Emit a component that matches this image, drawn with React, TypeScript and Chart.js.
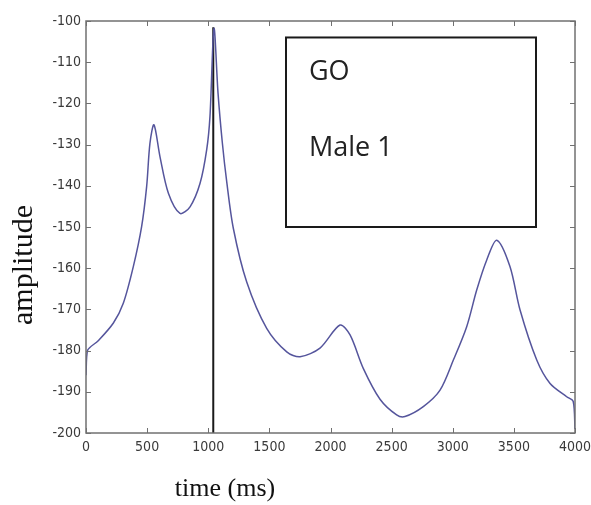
import React, { useEffect, useRef } from "react";
import { Chart, registerables } from "chart.js";

Chart.register(...registerables);

const timeMs = [0, 12, 100, 224, 305, 387, 455, 496, 523, 556, 605, 674, 769, 851, 933, 987, 1014, 1047, 1080, 1115, 1151, 1205, 1314, 1478, 1642, 1751, 1914, 2078, 2160, 2268, 2405, 2541, 2609, 2759, 2896, 3005, 3114, 3196, 3278, 3360, 3468, 3550, 3687, 3796, 3932, 3985, 4000];
const amplitude = [-186, -180, -177.6, -173.3, -168.5, -159.6, -149.9, -140.2, -129.7, -125.2, -132.9, -141.8, -146.7, -145.1, -139.4, -131.3, -123.2, -101.8, -117.5, -129.5, -139, -150.3, -163.3, -174.6, -180.3, -181.5, -179.4, -173.8, -176.2, -184.3, -191.8, -195.6, -196, -193.6, -189.6, -182.3, -174.2, -165.3, -158, -153.2, -159.6, -170.1, -182.3, -188, -191.2, -192.3, -199];

const markerTime = [1041, 1041];
const markerAmp = [-200, -101.5];

const xTicks = [0, 500, 1000, 1500, 2000, 2500, 3000, 3500, 4000];
const yTicks = [-100, -110, -120, -130, -140, -150, -160, -170, -180, -190, -200];

const boxTime = [1636, 3681];
const boxAmp = [-104, -150];
const boxLines = ["GO", "Male 1"];
const boxLineAmp = [-112.4, -130.8];
const boxTextTime = 1824;

const xTitle = "time (ms)";
const yTitle = "amplitude";

const tickFont = "'Liberation Sans Narrow', 'DejaVu Sans Condensed', 'Liberation Sans', sans-serif";

const overlay = {
  id: "overlay",
  afterDraw(chart: any) {
    const { ctx, chartArea: a, scales } = chart;
    const xs = scales.x;
    const ys = scales.y;
    ctx.save();
    ctx.strokeStyle = "#707070";
    ctx.lineWidth = 1.5;
    ctx.strokeRect(a.left, a.top, a.right - a.left, a.bottom - a.top);
    ctx.lineWidth = 1;
    ctx.beginPath();
    xTicks.forEach((t) => {
      const px = Math.round(xs.getPixelForValue(t)) + 0.5;
      ctx.moveTo(px, a.bottom);
      ctx.lineTo(px, a.bottom - 5);
      ctx.moveTo(px, a.top);
      ctx.lineTo(px, a.top + 5);
    });
    yTicks.forEach((v) => {
      const py = Math.round(ys.getPixelForValue(v)) + 0.5;
      ctx.moveTo(a.left, py);
      ctx.lineTo(a.left + 5, py);
      ctx.moveTo(a.right, py);
      ctx.lineTo(a.right - 5, py);
    });
    ctx.stroke();
    const bx1 = xs.getPixelForValue(boxTime[0]);
    const bx2 = xs.getPixelForValue(boxTime[1]);
    const by1 = ys.getPixelForValue(boxAmp[0]);
    const by2 = ys.getPixelForValue(boxAmp[1]);
    ctx.fillStyle = "#ffffff";
    ctx.fillRect(bx1, by1, bx2 - bx1, by2 - by1);
    ctx.strokeStyle = "#1a1a1a";
    ctx.lineWidth = 2;
    ctx.strokeRect(bx1, by1, bx2 - bx1, by2 - by1);
    ctx.fillStyle = "#222222";
    ctx.font = "27px 'Open Sans', sans-serif";
    ctx.textAlign = "left";
    ctx.textBaseline = "middle";
    boxLines.forEach((s, i) => {
      ctx.fillText(s, xs.getPixelForValue(boxTextTime), ys.getPixelForValue(boxLineAmp[i]));
    });
    ctx.fillStyle = "#111111";
    ctx.font = "26px 'Liberation Serif', serif";
    ctx.textAlign = "center";
    ctx.textBaseline = "middle";
    ctx.fillText(xTitle, 225, 489);
    ctx.translate(24, 265);
    ctx.rotate(-Math.PI / 2);
    ctx.font = "30px 'Liberation Serif', serif";
    ctx.fillText(yTitle, 0, 0);
    ctx.restore();
  },
};

export default function App() {
  const ref = useRef<HTMLCanvasElement | null>(null);
  useEffect(() => {
    document.body.style.margin = "0";
    const canvas = ref.current;
    if (!canvas) return;
    const chart = new Chart(canvas, {
      type: "line",
      data: {
        datasets: [
          {
            data: timeMs.map((t, i) => ({ x: t, y: amplitude[i] })),
            borderColor: "#55559c",
            borderWidth: 1.5,
            pointRadius: 0,
            tension: 0.3,
            fill: false,
          },
          {
            data: markerTime.map((t, i) => ({ x: t, y: markerAmp[i] })),
            borderColor: "#1a1a1a",
            borderWidth: 2,
            pointRadius: 0,
            fill: false,
          },
        ],
      },
      options: {
        animation: false,
        responsive: false,
        maintainAspectRatio: false,
        layout: { padding: { top: 21, right: 16, left: 0, bottom: 0 } },
        plugins: { legend: { display: false }, tooltip: { enabled: false } },
        scales: {
          x: {
            type: "linear",
            min: 0,
            max: 4000,
            afterFit: (s: any) => {
              s.height = 72;
              s.paddingLeft = 0;
              s.paddingRight = 0;
            },
            afterBuildTicks: (s: any) => {
              s.ticks = xTicks.map((v) => ({ value: v }));
            },
            grid: { display: false, drawTicks: false },
            border: { display: false },
            ticks: {
              padding: 6,
              color: "#3a3a3a",
              font: { family: tickFont, size: 14 },
              maxRotation: 0,
              autoSkip: false,
              callback: (v: any) => String(v),
            },
          },
          y: {
            type: "linear",
            min: -200,
            max: -100,
            afterFit: (s: any) => {
              s.width = 86;
              s.paddingTop = 0;
              s.paddingBottom = 0;
            },
            afterBuildTicks: (s: any) => {
              s.ticks = yTicks.slice().reverse().map((v) => ({ value: v }));
            },
            grid: { display: false, drawTicks: false },
            border: { display: false },
            ticks: {
              padding: 5,
              color: "#3a3a3a",
              font: { family: tickFont, size: 14 },
              autoSkip: false,
              callback: (v: any) => String(v),
            },
          },
        },
      },
      plugins: [overlay],
    } as any);
    return () => chart.destroy();
  }, []);
  return (
    <div style={{ width: 591, height: 505, background: "#ffffff" }}>
      <canvas ref={ref} width={591} height={505} style={{ display: "block" }} />
    </div>
  );
}
